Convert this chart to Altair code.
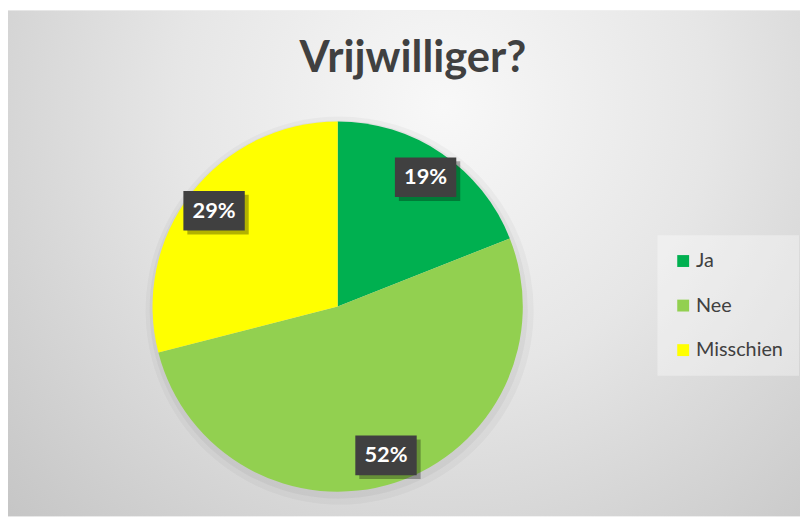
import altair as alt
import pandas as pd

# ---- data ----
categories = ["Ja", "Nee", "Misschien"]
values = [19, 52, 29]
labels = ["19%", "52%", "29%"]
colors = ["#00B050", "#92D050", "#FFFF00"]
title_text = "Vrijwilliger?"

# ---- layout constants ----
W, H = 800, 511
CX, CY = 333, 299
R = 187
LR = 158
BW, BH = 31, 20  # half box sizes

df = pd.DataFrame({"cat": categories, "val": values, "label": labels,
                   "order": list(range(len(categories)))})

bg = alt.Chart(pd.DataFrame({"k": [0]})).mark_rect(
    color=alt.RadialGradient(
        gradient="radial", x1=0.55, y1=0.3, r1=0.0, x2=0.55, y2=0.3, r2=0.75,
        stops=[alt.GradientStop(color="#f8f8f8", offset=0),
               alt.GradientStop(color="#e6e6e6", offset=0.45),
               alt.GradientStop(color="#c6c6c6", offset=1)]),
    strokeWidth=0,
).encode(x=alt.value(0), x2=alt.value(W), y=alt.value(0), y2=alt.value(H))

base = alt.Chart(df)

shadow1 = base.mark_arc(radius=R + 9, color="#000000", opacity=0.03).encode(
    theta=alt.Theta("val:Q", stack=True), order=alt.Order("order:Q"),
    x=alt.value(CX + 2), y=alt.value(CY + 4))
shadow2 = base.mark_arc(radius=R + 4, color="#000000", opacity=0.04).encode(
    theta=alt.Theta("val:Q", stack=True), order=alt.Order("order:Q"),
    x=alt.value(CX + 1), y=alt.value(CY + 3))

pie = base.mark_arc(radius=R).encode(
    theta=alt.Theta("val:Q", stack=True),
    order=alt.Order("order:Q"),
    color=alt.Color("cat:N",
                    scale=alt.Scale(domain=categories, range=colors),
                    legend=alt.Legend(
                        title=None, orient="none", legendX=656, legendY=227,
                        symbolType="square", symbolSize=144, symbolStrokeWidth=0,
                        labelFont="Lato", labelFontSize=20, labelColor="#404040",
                        labelOffset=3, rowPadding=25, padding=16,
                        fillColor="rgba(255,255,255,0.35)")),
    x=alt.value(CX), y=alt.value(CY),
)

pos = base.transform_joinaggregate(total="sum(val)").transform_window(
    cum="sum(val)", sort=[alt.SortField("order")], frame=[None, 0]
).transform_calculate(
    mid="2*PI*(datum.cum - datum.val/2)/datum.total",
).transform_calculate(
    lx=f"{CX} + {LR}*sin(datum.mid)",
    ly=f"{CY} - {LR}*cos(datum.mid)",
).transform_calculate(
    x1=f"datum.lx - {BW}", x2=f"datum.lx + {BW}",
    y1=f"datum.ly - {BH}", y2=f"datum.ly + {BH}",
    sx1=f"datum.lx - {BW} + 4", sx2=f"datum.lx + {BW} + 4",
    sy1=f"datum.ly - {BH} + 4", sy2=f"datum.ly + {BH} + 4",
)

box_shadow = pos.mark_rect(color="#000000", opacity=0.3).encode(
    x=alt.X("sx1:Q", scale=None), x2="sx2:Q",
    y=alt.Y("sy1:Q", scale=None), y2="sy2:Q")

box = pos.mark_rect(color="#404040").encode(
    x=alt.X("x1:Q", scale=None), x2="x2:Q",
    y=alt.Y("y1:Q", scale=None), y2="y2:Q")

txt = pos.mark_text(font="Lato", fontSize=22, fontWeight="bold", color="#ffffff",
                    align="center", baseline="middle").encode(
    x=alt.X("lx:Q", scale=None), y=alt.Y("ly:Q", scale=None), text="label:N")

chart = alt.layer(bg, shadow1, shadow2, pie, box_shadow, box, txt).properties(
    width=W, height=H,
    title=alt.TitleParams(title_text, font="Lato", fontSize=44, fontWeight="bold",
                          color="#404040", anchor="middle", baseline="alphabetic",
                          offset=-106, dx=9),
    autosize=alt.AutoSizeParams(type="none"),
    padding=0,
).configure_view(stroke=None)

chart.save("out.html", embed_options={"renderer": "svg", "actions": False})
